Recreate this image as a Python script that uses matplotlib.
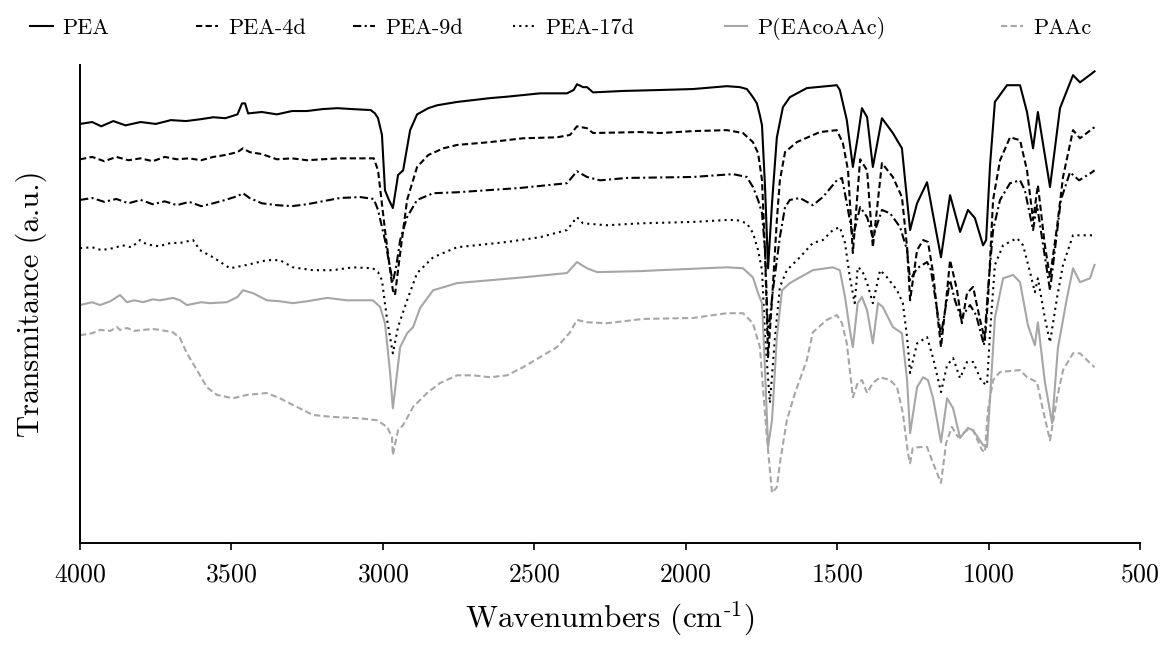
import numpy as np
import matplotlib
matplotlib.use("Agg")
import matplotlib.pyplot as plt

plt.rcParams['font.family'] = 'serif'
plt.rcParams['font.serif'] = ['cmr10']
plt.rcParams['mathtext.fontset'] = 'cm'
plt.rcParams['axes.formatter.use_mathtext'] = True

# FTIR spectra, wavenumber (cm-1) and transmittance (a.u., offset per sample)
pea_wn = [4000, 3960, 3930, 3890, 3850, 3800, 3750, 3700, 3650, 3600, 3560, 3520, 3480, 3465,
          3455, 3445, 3400, 3350, 3300, 3250, 3200, 3150, 3100, 3040, 3026, 3016, 3003, 2993,
          2980, 2967, 2955, 2950, 2933, 2910, 2887, 2850, 2821, 2755, 2700, 2646, 2590, 2481,
          2392, 2370, 2359, 2339, 2326, 2306, 2207, 2085, 1976, 1864, 1821, 1798, 1778, 1765,
          1755, 1748, 1738, 1728, 1715, 1699, 1679, 1656, 1600, 1501, 1491, 1468, 1448, 1432,
          1418, 1401, 1382, 1352, 1316, 1286, 1269, 1259, 1236, 1203, 1183, 1157, 1127, 1094,
          1068, 1045, 1018, 1008, 995, 979, 939, 896, 873, 853, 837, 797, 764, 721, 698, 658, 650]
pea_t = [87.7, 88.1, 87.2, 88.3, 87.4, 88.1, 87.7, 88.5, 88.3, 88.7, 89.1, 88.9, 89.7, 92.0,
         92.0, 89.9, 90.2, 89.7, 90.4, 90.4, 90.8, 91.0, 90.8, 90.6, 89.9, 88.9, 85.4, 73.8,
         71.8, 70.1, 74.9, 77.0, 78.0, 86.4, 89.7, 91.0, 91.6, 92.3, 92.7, 93.1, 93.4, 94.1,
         94.1, 94.8, 96.0, 95.4, 95.4, 94.3, 94.6, 94.8, 95.0, 95.6, 95.4, 95.0, 93.3, 92.0,
         89.5, 87.4, 74.5, 57.5, 71.1, 84.9, 91.2, 93.3, 95.2, 95.8, 94.8, 88.5, 78.7, 84.9,
         91.0, 89.1, 78.7, 88.9, 85.8, 82.6, 71.8, 65.5, 71.1, 75.5, 68.6, 59.8, 72.8, 65.1,
         69.7, 68.0, 62.3, 63.4, 79.1, 92.3, 95.8, 95.8, 90.2, 82.6, 90.2, 74.5, 91.0, 97.9,
         96.4, 98.3, 98.7]

pea4_wn = [4000, 3960, 3920, 3880, 3840, 3800, 3760, 3720, 3680, 3640, 3600, 3560, 3520, 3480,
           3462, 3440, 3400, 3350, 3300, 3250, 3200, 3142, 3075, 3030, 3016, 2993, 2976, 2967,
           2960, 2950, 2933, 2920, 2887, 2850, 2800, 2755, 2646, 2537, 2425, 2382, 2359, 2326,
           2306, 2151, 2085, 1976, 1864, 1811, 1778, 1761, 1748, 1738, 1728, 1715, 1699, 1689,
           1672, 1633, 1557, 1501, 1481, 1464, 1448, 1424, 1401, 1382, 1352, 1316, 1286, 1269,
           1259, 1236, 1216, 1200, 1183, 1167, 1157, 1140, 1127, 1104, 1088, 1071, 1051, 1028,
           1012, 1002, 995, 985, 962, 929, 896, 873, 853, 837, 814, 797, 774, 754, 721, 698,
           655, 650]
pea4_t = [80.3, 80.8, 79.9, 80.8, 80.1, 80.5, 79.9, 80.8, 80.3, 80.5, 80.1, 80.8, 81.2, 81.8,
          82.6, 81.8, 81.4, 80.3, 80.5, 80.1, 80.3, 80.5, 80.5, 80.5, 78.0, 65.5, 57.1, 52.9,
          51.9, 57.1, 65.5, 71.8, 78.7, 81.2, 82.6, 83.3, 83.9, 84.7, 84.9, 85.4, 87.2, 86.8,
          85.8, 86.0, 85.8, 86.2, 86.4, 85.8, 83.9, 81.6, 75.9, 60.7, 38.9, 50.8, 67.6, 75.9,
          81.8, 83.9, 86.0, 86.4, 83.7, 78.0, 60.7, 80.3, 78.0, 61.9, 79.5, 76.6, 72.4, 61.9,
          50.8, 61.3, 63.4, 63.0, 56.5, 46.7, 41.0, 50.8, 59.2, 52.9, 46.0, 52.3, 53.6, 46.7,
          42.5, 50.8, 59.2, 71.8, 80.1, 84.9, 84.3, 78.0, 67.6, 74.9, 62.3, 55.6, 66.1, 76.6,
          86.4, 84.7, 86.8, 87.0]

pea9_wn = [4000, 3960, 3920, 3880, 3840, 3800, 3760, 3720, 3680, 3640, 3600, 3560, 3520, 3480,
           3462, 3440, 3400, 3350, 3300, 3250, 3200, 3142, 3075, 3030, 3016, 2993, 2976, 2967,
           2955, 2943, 2920, 2887, 2834, 2755, 2547, 2392, 2359, 2326, 2283, 2194, 1976, 1844,
           1798, 1778, 1761, 1748, 1738, 1728, 1712, 1689, 1672, 1656, 1623, 1580, 1547, 1501,
           1484, 1468, 1448, 1424, 1401, 1382, 1352, 1325, 1292, 1269, 1259, 1236, 1203, 1190,
           1157, 1127, 1111, 1091, 1061, 1041, 1015, 1002, 985, 962, 929, 896, 880, 853, 840,
           797, 781, 761, 731, 701, 658, 650]
pea9_t = [71.8, 72.2, 71.4, 72.0, 71.1, 71.8, 70.9, 71.5, 70.7, 71.4, 70.5, 71.1, 71.8, 72.6,
          73.2, 72.2, 71.1, 70.7, 70.5, 70.9, 71.5, 72.2, 72.4, 72.0, 69.7, 63.4, 57.5, 54.6,
          58.2, 63.4, 68.2, 71.8, 73.2, 73.4, 74.3, 75.3, 77.8, 76.6, 75.9, 76.4, 76.6, 77.2,
          76.6, 74.5, 71.8, 69.0, 61.3, 43.5, 52.9, 64.0, 70.3, 71.8, 72.2, 70.7, 72.4, 75.9,
          76.4, 71.1, 64.0, 70.3, 68.2, 64.0, 69.7, 69.0, 66.1, 61.3, 55.0, 57.5, 58.8, 57.1,
          43.5, 55.0, 50.8, 47.1, 49.8, 47.7, 41.4, 52.9, 65.5, 71.8, 75.3, 75.9, 73.8, 65.5,
          70.7, 52.9, 61.3, 71.8, 77.6, 75.9, 77.6, 78.0]

pea17_wn = [4000, 3960, 3930, 3891, 3860, 3830, 3802, 3780, 3740, 3700, 3670, 3627, 3604, 3561,
            3505, 3449, 3383, 3340, 3297, 3231, 3165, 3099, 3033, 3016, 3003, 2986, 2967, 2950,
            2920, 2887, 2834, 2755, 2590, 2481, 2392, 2359, 2339, 2260, 2151, 1976, 1864, 1831,
            1798, 1778, 1761, 1748, 1738, 1722, 1705, 1689, 1666, 1623, 1580, 1547, 1514, 1491,
            1474, 1458, 1442, 1432, 1418, 1401, 1382, 1358, 1335, 1302, 1283, 1269, 1259, 1236,
            1203, 1183, 1157, 1137, 1117, 1094, 1071, 1051, 1022, 1005, 995, 979, 952, 906, 886,
            863, 847, 837, 814, 797, 774, 754, 721, 655, 650]
pea17_t = [61.7, 61.9, 61.3, 61.7, 62.3, 61.9, 63.4, 62.5, 62.1, 62.8, 62.8, 63.4, 61.3, 59.8,
           57.5, 58.2, 59.2, 59.2, 57.7, 57.1, 57.1, 57.7, 57.5, 56.7, 55.0, 46.7, 39.7, 45.2,
           50.8, 56.5, 59.8, 61.9, 63.0, 64.0, 65.5, 68.2, 66.9, 66.5, 66.9, 67.2, 67.6, 67.6,
           66.9, 64.9, 61.3, 57.1, 43.1, 29.3, 43.1, 53.6, 57.1, 59.8, 62.8, 63.4, 65.5, 66.1,
           62.8, 55.6, 50.2, 57.7, 57.1, 54.4, 50.2, 57.1, 55.6, 52.9, 50.2, 43.1, 35.6, 41.8,
           43.1, 38.7, 31.6, 37.2, 38.7, 34.5, 37.9, 37.9, 33.7, 33.1, 44.1, 58.2, 62.3, 63.8,
           62.3, 56.7, 52.5, 55.4, 47.1, 42.0, 51.3, 58.2, 64.4, 64.4, 64.4]

copo_wn = [4000, 3960, 3934, 3900, 3868, 3845, 3820, 3792, 3760, 3736, 3693, 3670, 3647, 3600,
           3571, 3515, 3480, 3462, 3440, 3429, 3383, 3340, 3297, 3250, 3184, 3120, 3075, 3033,
           3009, 2993, 2976, 2967, 2953, 2943, 2920, 2900, 2877, 2834, 2755, 2646, 2537, 2392,
           2359, 2326, 2293, 2151, 2085, 1864, 1811, 1778, 1761, 1748, 1738, 1728, 1715, 1699,
           1682, 1656, 1623, 1580, 1514, 1491, 1474, 1458, 1448, 1432, 1418, 1401, 1382, 1365,
           1349, 1316, 1286, 1269, 1259, 1236, 1216, 1200, 1183, 1157, 1137, 1117, 1094, 1068,
           1051, 1018, 1005, 995, 979, 952, 919, 896, 870, 847, 837, 814, 790, 771, 741, 721,
           698, 665, 650]
copo_t = [49.8, 50.4, 49.8, 50.6, 51.9, 50.4, 50.8, 50.4, 51.0, 50.8, 51.3, 50.8, 49.8, 50.4,
          50.2, 50.4, 51.5, 52.9, 52.5, 52.3, 50.8, 50.6, 50.2, 50.6, 51.3, 50.8, 50.8, 50.8,
          49.4, 46.0, 35.6, 28.2, 35.6, 41.0, 43.9, 45.2, 49.2, 52.9, 54.4, 55.0, 55.6, 56.5,
          58.8, 57.5, 56.7, 56.9, 57.1, 57.7, 57.5, 55.6, 52.3, 50.2, 36.2, 20.1, 25.7, 43.1,
          52.9, 54.4, 55.6, 57.1, 57.7, 57.1, 51.5, 44.6, 41.0, 50.2, 51.5, 48.7, 41.8, 50.2,
          49.4, 45.2, 43.9, 34.1, 23.0, 32.6, 34.7, 34.1, 30.3, 21.1, 30.3, 28.2, 22.0, 24.1,
          23.6, 20.5, 20.1, 30.3, 47.1, 55.4, 56.1, 54.6, 45.6, 41.4, 46.2, 33.7, 25.1, 40.8,
          51.3, 57.5, 54.6, 55.4, 58.2]

paac_wn = [4000, 3960, 3934, 3900, 3878, 3868, 3845, 3820, 3792, 3760, 3736, 3693, 3670, 3647,
           3614, 3581, 3548, 3495, 3449, 3383, 3340, 3297, 3231, 3165, 3075, 3019, 2986, 2970,
           2967, 2950, 2933, 2900, 2854, 2811, 2755, 2702, 2646, 2590, 2537, 2481, 2425, 2382,
           2359, 2326, 2260, 2141, 1976, 1864, 1811, 1778, 1755, 1745, 1732, 1715, 1699, 1689,
           1666, 1639, 1600, 1580, 1534, 1501, 1484, 1468, 1458, 1448, 1432, 1418, 1401, 1382,
           1358, 1325, 1302, 1283, 1266, 1259, 1250, 1226, 1203, 1183, 1157, 1140, 1121, 1101,
           1071, 1051, 1022, 1012, 1002, 985, 962, 896, 873, 840, 820, 797, 774, 754, 721, 698,
           675, 650]
paac_t = [43.5, 43.9, 44.6, 44.4, 45.2, 44.6, 45.0, 44.4, 44.6, 44.8, 44.6, 44.1, 42.9, 39.7,
          36.2, 32.6, 31.0, 30.3, 31.0, 31.4, 30.3, 28.9, 26.8, 26.4, 26.1, 25.7, 24.3, 22.2,
          18.4, 23.6, 24.7, 28.5, 31.4, 33.5, 35.1, 35.1, 34.7, 35.1, 36.8, 38.9, 41.0, 44.1,
          46.7, 46.2, 46.0, 46.9, 47.1, 48.1, 48.1, 46.0, 41.0, 32.6, 22.2, 10.5, 11.7, 16.7,
          25.7, 31.4, 38.3, 44.1, 46.7, 47.7, 46.0, 41.8, 36.2, 30.5, 33.5, 34.1, 31.4, 33.5,
          34.7, 34.1, 32.6, 27.2, 18.8, 16.7, 19.9, 20.1, 20.1, 16.7, 12.6, 20.9, 24.3, 22.2,
          23.6, 23.6, 19.5, 19.0, 27.8, 34.1, 35.8, 36.2, 34.7, 33.7, 27.8, 21.5, 30.3, 36.2,
          39.7, 39.7, 38.3, 36.8]

series = [
    ('PEA', pea_wn, pea_t, 'black', '-'),
    ('PEA-4d', pea4_wn, pea4_t, 'black', (0, (3.0, 1.6))),
    ('PEA-9d', pea9_wn, pea9_t, 'black', (0, (4.0, 1.6, 1.0, 1.6))),
    ('PEA-17d', pea17_wn, pea17_t, 'black', (0, (1.0, 2.0))),
    ('P(EAcoAAc)', copo_wn, copo_t, '#a6a6a6', '-'),
    ('PAAc', paac_wn, paac_t, '#a6a6a6', (0, (3.0, 1.6))),
]
# left edge of each legend entry along the top (figure fraction)
legend_x = [0.026, 0.168, 0.303, 0.440, 0.622, 0.859]

fig = plt.figure(figsize=(11.65, 6.45), dpi=100)
ax = fig.add_axes([0.0687, 0.158, 0.9098, 0.741])

lines = []
for name, wn, t, col, ls in series:
    ln, = ax.plot(wn, t, color=col, linestyle=ls, linewidth=1.5, label=name)
    lines.append(ln)

ax.set_xlim(4000, 500)
ax.set_ylim(0, 100)
ax.set_xticks(np.arange(4000, 499, -500))
ax.set_yticks([])
ax.spines['top'].set_visible(False)
ax.spines['right'].set_visible(False)
ax.spines['left'].set_linewidth(1.4)
ax.spines['bottom'].set_linewidth(1.4)
ax.tick_params(axis='x', direction='out', length=5, width=1.2, labelsize=18.5, pad=9)

ax.set_xlabel(r'Wavenumbers (cm$^{\text{-1}}$)', fontsize=22.5, labelpad=9)
ax.set_ylabel('Transmitance (a.u.)', fontsize=22, labelpad=24)

for ln, x in zip(lines, legend_x):
    fig.legend(handles=[ln], loc='center left', bbox_to_anchor=(x, 0.956), frameon=False,
               fontsize=16, handlelength=1.0, handletextpad=0.45, borderpad=0,
               borderaxespad=0)

fig.savefig('out.png', dpi=100)
